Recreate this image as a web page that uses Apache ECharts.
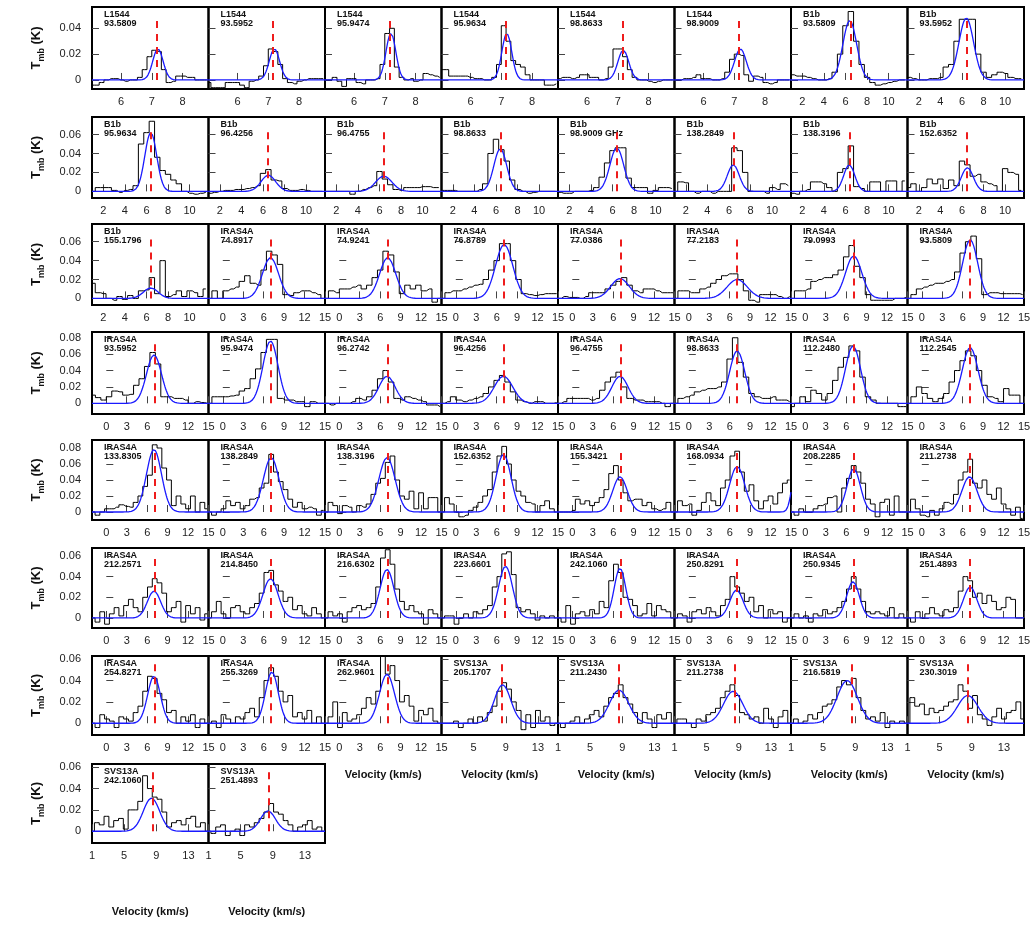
<!DOCTYPE html>
<html><head><meta charset="utf-8">
<script src="https://cdn.jsdelivr.net/npm/echarts@6/dist/echarts.min.js"></script>
<style>html,body{margin:0;padding:0;background:#fff}#c{width:1035px;height:926px}</style>
</head><body><div id="c"></div><script>
// ---------------- DATA ----------------
const sources = ["L1544","L1544","L1544","L1544","L1544","L1544","B1b","B1b",
 "B1b","B1b","B1b","B1b","B1b","B1b","B1b","B1b",
 "B1b","IRAS4A","IRAS4A","IRAS4A","IRAS4A","IRAS4A","IRAS4A","IRAS4A",
 "IRAS4A","IRAS4A","IRAS4A","IRAS4A","IRAS4A","IRAS4A","IRAS4A","IRAS4A",
 "IRAS4A","IRAS4A","IRAS4A","IRAS4A","IRAS4A","IRAS4A","IRAS4A","IRAS4A",
 "IRAS4A","IRAS4A","IRAS4A","IRAS4A","IRAS4A","IRAS4A","IRAS4A","IRAS4A",
 "IRAS4A","IRAS4A","IRAS4A","SVS13A","SVS13A","SVS13A","SVS13A","SVS13A",
 "SVS13A","SVS13A"];
const freqs = ["93.5809","93.5952","95.9474","95.9634","98.8633","98.9009","93.5809","93.5952",
 "95.9634","96.4256","96.4755","98.8633","98.9009 GHz","138.2849","138.3196","152.6352",
 "155.1796","74.8917","74.9241","76.8789","77.0386","77.2183","79.0993","93.5809",
 "93.5952","95.9474","96.2742","96.4256","96.4755","98.8633","112.2480","112.2545",
 "133.8305","138.2849","138.3196","152.6352","155.3421","168.0934","208.2285","211.2738",
 "212.2571","214.8450","216.6302","223.6601","242.1060","250.8291","250.9345","251.4893",
 "254.8271","255.3269","262.9601","205.1707","211.2430","211.2738","216.5819","230.3019",
 "242.1060","251.4893"];

// velocity axis per source: [min, max] and tick labels
const velRange = {L1544:[5.05,8.85], B1b:[0.95,11.75], IRAS4A:[-2.1,15], SVS13A:[1,15.5]};
const l1544Ticks = [6,7,8];
const b1bTicks = [2,4,6,8,10];
const iras4aTicks = [0,3,6,9,12,15];
const svs13aTicks = [1,5,9,13];

// systemic velocity (red dashed line) per panel
const vlsr = [7.15,7.15,7.15,7.15,7.15,7.15,6.45,6.4,
 6.4,6.4,6.4,6.45,6.4,6.4,6.4,6.4,
 6.4,7.1,7.1,7.1,7.1,7.1,7.1,7.1,
 7.1,7.1,7.1,7.1,7.1,7.1,7.1,7.1,
 7.1,7.1,7.1,7.1,7.1,7.1,7.1,7.1,
 7.1,7.1,7.1,7.2,7.1,7.1,7.1,7.1,
 7.1,7.1,7.1,8.5,8.5,8.5,8.5,8.5,
 8.5,8.5];

// Gaussian fit components per panel: [amplitude K, centre km/s, FWHM km/s]
const fitComps = [
 [[0.024,7.2,0.40]],[[0.024,7.2,0.40]],[[0.036,7.2,0.38]],[[0.036,7.18,0.38]],
 [[0.023,7.18,0.42]],[[0.024,7.2,0.45]],[[0.046,6.4,1.5]],[[0.048,6.4,1.6]],
 [[0.062,6.4,1.3]],[[0.017,6.5,1.6]],[[0.016,6.4,1.8]],[[0.045,6.4,1.4]],
 [[0.046,6.4,1.5]],[[0.028,6.4,1.3]],[[0.028,6.35,1.2]],[[0.025,6.5,1.3]],
 [[0.011,6.4,1.6]],[[0.043,7.0,2.8]],[[0.043,7.1,2.8]],[[0.057,7.1,3.0]],
 [[0.021,7.0,3.2]],[[0.020,7.1,3.5]],[[0.045,7.1,2.8]],[[0.062,7.1,2.6]],
 [[0.059,7.0,2.6]],[[0.076,7.0,2.6]],[[0.033,7.0,2.8]],[[0.033,7.0,3.2]],
 [[0.033,7.0,2.8]],[[0.064,7.1,2.6]],[[0.070,7.0,2.6]],[[0.068,7.1,2.7]],
 [[0.078,7.0,2.6]],[[0.068,7.1,2.7]],[[0.068,7.0,2.8]],[[0.072,7.0,2.6]],
 [[0.044,7.0,2.5]],[[0.057,7.1,2.6],[0.045,15.6,1.3]],[[0.054,7.1,2.3]],[[0.044,7.0,2.6]],
 [[0.026,7.0,2.3]],[[0.038,7.0,2.6]],[[0.047,7.0,2.4]],[[0.050,7.3,2.4]],
 [[0.048,7.0,2.0]],[[0.027,7.0,2.3]],[[0.035,7.0,2.2]],[[0.030,7.1,2.3]],
 [[0.044,7.0,2.2]],[[0.048,7.2,2.2]],[[0.046,7.0,2.6]],[[0.036,8.6,2.4]],
 [[0.031,8.6,2.8]],[[0.030,8.3,2.8]],[[0.040,8.0,3.0]],[[0.026,8.5,3.0]],
 [[0.031,8.4,2.4]],[[0.019,8.4,2.2]]];

// channel grid: first channel velocity and channel width (km/s)
const chanStart = [5.05,5.05,5.05,5.05,5.05,5.05,1,1, 1,1,1,1,1,1,1,1,
 1,-2,-2,-2,-2,-2,-2,-2, -2,-2,-2,-2,-2,-2,-2,-2,
 -2,-2,-2,-2,-2,-2,-2,-2, -2,-2,-2,-2,-2,-2,-2,-2,
 -2,-2,-2,1,1,1,1,1, 1,1];
const chanWidth = [0.156,0.156,0.156,0.156,0.156,0.156,0.5,0.5, 0.5,0.5,0.5,0.5,0.5,0.5,0.5,0.5,
 0.5,0.8,0.8,0.8,0.8,0.8,0.8,0.8, 0.8,0.8,0.8,0.8,0.8,0.8,0.8,0.8,
 0.7,0.7,0.7,0.7,0.7,0.7,0.7,0.7, 0.7,0.7,0.7,0.7,0.7,0.7,0.7,0.7,
 0.7,0.7,0.7,0.6,0.6,0.6,0.6,0.6, 0.6,0.6];

// observed spectra (Tmb, K), one value per channel
const spectra = [
 [-0.004,-0.004,-0.002,0.0,0.001,0.001,0.0,-0.001,0.0,0.0,0.002,0.008,0.018,0.023,0.022,0.008,-0.002,-0.001,0.003,0.003,0.002,0.002,0.0,0.0,0.0],
 [-0.002,-0.006,-0.006,-0.006,-0.002,-0.002,-0.002,-0.004,-0.006,-0.001,0.0,0.003,0.011,0.024,0.022,0.012,0.001,-0.002,-0.003,-0.001,0.0,0.001,0.001,0.001,0.001],
 [0.0,0.0,0.002,-0.001,-0.005,0.001,0.001,-0.002,-0.003,0.0,0.0,0.001,0.012,0.036,0.040,0.010,0.002,0.0,0.001,-0.001,0.0,0.005,0.004,0.003,0.002],
 [0.008,0.008,0.003,0.003,0.003,0.003,0.002,0.001,0.001,0.0,0.0,0.002,0.012,0.042,0.030,0.015,0.012,0.010,0.004,0.0,0.0,0.0,-0.004,-0.004,-0.003],
 [0.001,0.002,0.002,0.001,0.002,0.004,0.004,0.002,0.002,0.0,0.001,0.010,0.024,0.024,0.018,0.008,0.002,0.0,0.0,-0.001,-0.002,-0.001,0.0,0.0,0.0],
 [0.0,0.0,0.001,0.001,0.002,0.004,0.001,0.001,0.0,0.0,0.001,0.006,0.016,0.020,0.019,0.004,-0.001,0.003,0.002,-0.002,-0.003,-0.002,0.0,0.0,0.0],
 [0.004,0.003,0.003,0.002,0.001,0.0,0.0,0.001,0.006,0.020,0.042,0.053,0.030,0.012,0.002,-0.002,-0.004,-0.003,-0.002,-0.001,0.0,0.0],
 [0.002,0.001,0.0,0.0,0.001,0.001,0.002,0.010,0.012,0.030,0.047,0.047,0.047,0.020,0.006,0.002,0.004,0.006,0.005,0.002,0.001,0.001],
 [0.0,0.004,0.004,0.004,0.001,-0.001,0.001,0.002,0.006,0.050,0.062,0.074,0.036,0.022,0.018,0.012,0.008,0.0,-0.002,-0.003,-0.002,-0.001],
 [-0.002,-0.001,0.0,0.001,0.001,0.002,0.002,0.003,0.004,0.006,0.019,0.023,0.012,0.011,0.003,0.001,0.001,0.002,0.001,0.0,0.0,0.0],
 [0.0,0.0,0.0,0.0,0.0,-0.003,0.0,0.002,0.004,0.006,0.021,0.013,0.007,0.002,0.001,0.004,0.004,0.004,0.005,0.005,0.004,0.004],
 [0.001,0.001,0.001,0.0,0.0,0.0,0.0,0.002,0.008,0.040,0.055,0.044,0.032,0.012,0.002,0.0,-0.002,-0.001,0.0,0.0,0.0,0.0],
 [-0.001,-0.002,-0.002,0.0,0.0,0.0,0.001,0.004,0.015,0.030,0.043,0.046,0.046,0.014,0.004,0.004,0.004,-0.002,0.001,0.004,0.004,0.003],
 [0.0,0.010,0.009,0.0,-0.002,0.0,0.0,-0.002,0.0,0.0,0.0,0.046,0.043,0.020,0.0,0.0,0.0,-0.002,0.004,0.002,0.008,0.006],
 [-0.002,-0.003,0.0,0.002,0.010,0.010,0.008,0.004,0.0,0.020,0.024,0.048,0.005,0.003,0.0,0.010,0.010,0.0,0.011,0.011,0.0,0.011],
 [0.004,0.008,0.0,0.004,0.013,0.008,0.013,0.003,0.012,0.006,0.032,0.028,0.016,0.018,0.010,0.008,0.006,0.0,0.024,0.020,0.018,0.001],
 [0.016,0.006,0.005,0.0,-0.002,0.002,-0.001,0.003,0.0,0.008,0.009,0.022,0.005,0.040,0.002,0.004,0.008,0.002,0.008,0.006,0.002,0.010],
 [0.0,0.008,0.0,0.008,0.010,0.012,0.018,0.024,0.016,0.014,0.030,0.050,0.046,0.036,0.004,0.003,0.006,0.008,0.008,0.006,0.004,0.0],
 [0.0,0.008,0.006,0.010,0.010,0.012,0.014,0.010,0.014,0.022,0.030,0.050,0.046,0.028,0.005,0.014,0.010,0.014,0.008,0.010,-0.004,0.0],
 [0.0,0.006,0.008,0.008,0.010,0.012,0.014,0.015,0.020,0.030,0.040,0.058,0.058,0.040,0.020,0.005,0.004,0.003,0.004,0.005,0.005,0.005],
 [0.0,0.002,0.001,0.001,0.0,0.002,0.006,0.006,0.006,0.010,0.014,0.018,0.022,0.014,0.008,0.006,0.010,0.010,0.008,0.006,0.006,0.006],
 [0.0,0.008,0.008,0.006,0.006,0.010,0.012,0.016,0.020,0.024,0.026,0.026,0.020,0.008,-0.002,-0.004,0.004,0.004,0.004,0.002,0.0,0.002],
 [0.0,0.008,0.008,0.010,0.018,0.020,0.022,0.022,0.025,0.030,0.044,0.056,0.034,0.022,0.004,-0.002,-0.002,-0.002,-0.002,0.0,0.0,0.001],
 [0.0,0.004,0.010,0.012,0.014,0.016,0.016,0.018,0.020,0.028,0.048,0.060,0.066,0.042,0.004,0.006,0.006,0.005,0.005,0.005,0.005,0.004],
 [0.010,0.007,0.004,0.008,0.015,0.014,0.010,0.011,0.022,0.030,0.045,0.062,0.048,0.008,0.008,0.006,0.006,0.004,0.0,0.002,0.001,0.0],
 [0.0,0.008,0.008,0.008,0.009,0.010,0.015,0.018,0.030,0.042,0.062,0.078,0.078,0.006,0.004,0.004,0.002,0.002,-0.004,0.002,0.0,0.0],
 [0.0,-0.002,0.0,0.0,0.0,0.002,0.006,0.004,0.008,0.016,0.030,0.040,0.026,0.006,0.004,0.008,0.006,0.004,0.002,-0.002,-0.002,-0.004],
 [0.0,0.002,0.008,0.004,0.002,0.004,0.006,0.008,0.012,0.020,0.028,0.034,0.026,0.014,0.004,0.002,0.0,0.002,0.002,0.0,0.0,0.001],
 [0.0,0.002,0.006,0.006,0.006,0.006,0.004,0.006,0.016,0.026,0.032,0.038,0.020,0.006,0.004,0.004,0.002,0.002,0.002,0.0,-0.004,0.0],
 [0.0,0.006,0.008,0.010,0.014,0.016,0.018,0.018,0.020,0.026,0.054,0.080,0.050,0.032,0.012,0.008,0.006,0.006,0.008,0.004,0.004,0.002],
 [-0.004,0.0,0.008,0.002,0.016,0.012,0.004,0.012,0.028,0.044,0.056,0.070,0.064,0.032,0.008,0.004,0.0,0.0,0.0,0.0,-0.004,-0.004],
 [0.0,0.008,0.020,0.012,0.006,0.002,0.006,0.012,0.026,0.040,0.052,0.064,0.058,0.040,0.022,0.008,0.006,0.002,0.018,0.010,0.010,0.0],
 [0.0,-0.004,0.0,0.004,0.004,0.006,0.009,0.007,0.006,0.012,0.020,0.032,0.046,0.084,0.080,0.055,0.040,0.008,0.020,0.010,0.004,0.020,0.0,0.012,0.004],
 [0.0,-0.004,0.0,0.004,0.014,0.008,0.012,0.004,0.008,0.016,0.018,0.030,0.036,0.072,0.050,0.038,0.028,0.016,0.006,0.012,0.004,0.006,0.004,-0.004,0.002],
 [0.0,0.012,0.008,-0.002,0.008,0.006,0.0,0.008,0.006,0.010,0.022,0.036,0.042,0.062,0.070,0.040,0.020,0.016,0.026,0.004,0.024,0.004,0.018,0.018,0.0],
 [0.0,0.018,0.010,0.0,-0.006,-0.004,0.002,0.006,0.012,0.020,0.028,0.050,0.070,0.082,0.060,0.040,0.026,0.020,0.012,0.010,0.0,0.008,0.014,0.004,0.0],
 [0.0,0.0,0.0,0.002,0.016,0.010,0.014,0.008,0.012,0.018,0.028,0.048,0.058,0.040,0.024,0.014,0.016,0.016,0.008,0.012,0.004,0.002,0.004,0.012,0.0],
 [0.0,0.014,0.008,0.010,-0.004,0.002,0.012,0.024,0.014,0.008,0.030,0.040,0.070,0.076,0.050,0.026,0.034,0.014,0.004,0.014,0.020,0.010,0.024,0.036,0.040],
 [0.0,-0.004,0.004,0.0,0.0,0.004,0.008,0.010,0.018,0.020,0.0,0.030,0.042,0.058,0.050,0.036,0.016,0.010,-0.006,0.012,0.016,-0.004,0.020,0.0,0.0],
 [0.0,0.016,0.004,-0.004,-0.006,0.002,-0.004,0.004,0.012,0.010,0.022,0.040,0.050,0.066,0.036,0.030,0.040,0.022,0.016,0.030,0.010,0.004,-0.004,0.006,-0.008],
 [0.0,-0.004,0.006,-0.006,0.004,0.010,0.002,0.012,0.018,0.010,0.006,0.020,0.030,0.038,0.034,0.024,0.006,0.010,0.016,-0.004,0.012,0.004,0.010,-0.002,0.004],
 [0.0,0.006,0.016,0.004,0.0,0.010,0.012,0.006,0.004,0.010,0.014,0.024,0.044,0.046,0.032,0.026,0.016,0.020,0.008,0.012,0.004,0.002,0.010,0.004,0.0],
 [0.0,0.006,0.002,0.004,-0.004,0.006,0.010,0.012,0.008,0.010,0.014,0.030,0.058,0.066,0.052,0.028,0.016,0.008,0.012,0.006,0.004,-0.006,0.008,0.004,0.0],
 [0.0,0.002,0.002,-0.006,0.0,0.004,0.0,0.006,0.004,0.008,0.012,0.030,0.040,0.062,0.064,0.042,0.010,0.006,0.008,0.004,-0.002,0.002,0.0,0.002,0.0],
 [0.0,-0.004,0.012,-0.006,0.004,0.006,0.002,0.008,0.004,0.016,0.010,0.036,0.052,0.044,0.020,0.018,0.012,0.002,0.004,0.014,0.002,0.012,0.008,0.006,0.0],
 [0.0,0.004,0.002,-0.004,0.006,0.008,0.004,0.010,0.006,0.002,0.012,0.018,0.040,0.030,0.024,0.016,0.020,0.006,0.012,0.0,0.008,0.004,0.006,-0.004,0.0],
 [0.0,0.004,0.0,0.002,-0.004,0.004,0.002,0.008,0.004,0.006,0.010,0.016,0.028,0.040,0.028,0.016,0.006,0.004,0.006,0.004,0.002,0.010,0.0,0.004,0.0],
 [0.0,-0.004,0.006,0.0,0.004,0.010,0.004,0.002,0.008,0.006,0.010,0.026,0.040,0.036,0.020,0.024,0.014,0.022,0.016,0.008,0.010,0.020,0.018,0.0,0.0],
 [0.0,-0.004,0.008,0.004,0.002,-0.004,0.006,0.004,0.002,0.010,0.016,0.030,0.044,0.042,0.028,0.022,0.010,0.012,0.0,0.006,0.002,0.008,-0.004,0.004,0.0],
 [0.0,0.002,-0.004,0.008,0.004,0.0,0.006,0.004,0.010,0.014,0.006,0.024,0.040,0.052,0.044,0.030,0.020,0.026,0.006,0.010,0.004,0.012,0.0,0.006,0.0],
 [0.0,0.006,0.020,-0.004,0.010,0.002,0.004,0.008,0.014,0.024,0.018,0.030,0.064,0.046,0.054,0.040,0.020,0.026,0.016,0.002,0.012,0.008,0.014,0.002,0.0],
 [0.0,0.0,0.0,0.002,-0.004,0.0,0.004,0.0,0.006,0.002,0.010,0.016,0.030,0.038,0.032,0.020,0.012,-0.006,0.008,-0.004,0.012,0.002,0.006,-0.002,0.0],
 [0.0,-0.004,0.0,0.002,0.006,0.0,0.004,0.008,0.012,0.006,0.016,0.024,0.028,0.036,0.024,0.018,0.010,0.0,0.010,0.004,-0.004,0.008,0.004,0.010,0.0],
 [0.0,0.004,0.004,0.0,-0.004,0.004,0.002,0.008,0.010,0.014,0.024,0.030,0.036,0.026,0.010,0.008,0.004,0.006,0.0,0.014,0.004,-0.004,0.006,0.012,0.0],
 [0.0,0.004,0.0,0.002,0.008,0.004,0.010,0.016,0.018,0.022,0.034,0.040,0.036,0.042,0.024,0.012,0.004,0.006,0.002,0.010,-0.004,0.002,0.0,0.002,0.0],
 [0.0,0.024,0.016,0.018,0.008,0.014,0.010,0.012,0.016,0.020,0.022,0.036,0.030,0.014,0.026,0.008,0.004,-0.002,0.006,0.014,0.004,0.010,0.012,0.020,0.004],
 [0.0,0.008,0.006,0.014,0.004,0.010,0.012,0.002,0.020,0.020,0.028,0.052,0.040,0.032,0.030,0.018,0.004,0.008,0.010,0.006,0.012,0.014,0.004,0.008,0.0],
 [0.0,-0.002,0.004,0.006,-0.004,0.0,0.002,-0.004,0.006,0.004,0.008,0.012,0.018,0.026,0.018,0.016,0.010,0.006,0.0,0.004,0.006,0.010,0.002,0.004,0.0]
];

// Tmb axis per row: range and tick labels
const rowTmin = [-0.007,-0.007,-0.007,-0.013,-0.010,-0.0097,-0.011,-0.011];
const rowTmax = [0.0565,0.0785,0.0788,0.087,0.090,0.0677,0.063,0.063];
const rowTticks = [[0,0.02,0.04],[0,0.02,0.04,0.06],[0,0.02,0.04,0.06],[0,0.02,0.04,0.06,0.08],
 [0,0.02,0.04,0.06,0.08],[0,0.02,0.04,0.06],[0,0.02,0.04,0.06],[0,0.02,0.04,0.06]];
const rowRedTop = [0.050,0.068,0.068,0.077,0.079,0.060,0.056,0.056];

// ---------------- LAYOUT ----------------
const NCOL = 8, COLW = 116.5, LEFT0 = 92;
const rowTop = [7,117,224,332,440,548,656,764];
const rowH = [82,81,81,82,80,80,79,79];
const FONT = '"Liberation Sans Narrow","Liberation Sans",Arial,sans-serif';
const tickSets = {L1544:l1544Ticks, B1b:b1bTicks, IRAS4A:iras4aTicks, SVS13A:svs13aTicks};

const grids=[], xAxes=[], yAxes=[], series=[], graphics=[];
function gauss(comps, v){let s=0;for(const c of comps){const d=(v-c[1])/c[2];s+=c[0]*Math.exp(-4*Math.LN2*d*d);}return s;}

sources.forEach((src,i)=>{
  const r=Math.floor(i/NCOL), c=i%NCOL;
  const left=LEFT0+c*COLW, top=rowTop[r];
  grids.push({left:left, top:top, width:COLW, height:rowH[r], show:true, borderColor:'#000', borderWidth:2, backgroundColor:'transparent', containLabel:false});
  const [vmin,vmax]=velRange[src];
  let xt = tickSets[src];
  if (i===51) xt = xt.filter(v=>v!==1);
  xAxes.push({type:'value', gridIndex:i, min:vmin, max:vmax,
    axisLine:{show:false}, splitLine:{show:false},
    axisTick:{show:true, inside:true, length:7, customValues:xt, lineStyle:{color:'#444',width:1}},
    axisLabel:{show:true, customValues:xt, margin:7, fontSize:11, color:'#222', fontFamily:FONT}});
  const ya={type:'value', gridIndex:i, min:rowTmin[r], max:rowTmax[r],
    axisLine:{show:false}, splitLine:{show:false},
    axisTick:{show:true, inside:true, length:7, customValues:rowTticks[r], lineStyle:{color:'#444',width:1}},
    axisLabel:{show:c===0, customValues:rowTticks[r], margin:11, fontSize:11, color:'#222', fontFamily:FONT}};
  if (c===0){
    ya.name='{t|T}{s|mb}{t| (K)}'; ya.nameLocation='middle'; ya.nameRotate=90; ya.nameGap=46;
    ya.nameTextStyle={rich:{t:{fontSize:13,fontWeight:'bold',fontFamily:'"Liberation Sans",Arial,sans-serif',color:'#111',lineHeight:20},
      s:{fontSize:9,fontWeight:'bold',fontFamily:'"Liberation Sans",Arial,sans-serif',color:'#111',lineHeight:12,verticalAlign:'bottom'}}};
  }
  yAxes.push(ya);
  const spec = spectra[i].map((t,k)=>[chanStart[i]+k*chanWidth[i], t]);
  series.push({type:'line', xAxisIndex:i, yAxisIndex:i, data:spec, step:'middle', showSymbol:false, symbol:'none',
    lineStyle:{color:'#000',width:1}, silent:true, animation:false, z:3,
    markLine:{silent:true, symbol:'none', animation:false, label:{show:false},
      lineStyle:{color:'#ee1c1c', width:2, type:[7,6]},
      data:[[{coord:[vlsr[i],0]},{coord:[vlsr[i],rowRedTop[r]]}]]}});
  const n=160, fit=[];
  for(let k=0;k<=n;k++){const v=vmin+(vmax-vmin)*k/n; fit.push([v, gauss(fitComps[i], v)]);}
  series.push({type:'line', xAxisIndex:i, yAxisIndex:i, data:fit, showSymbol:false, symbol:'none',
    lineStyle:{color:'#1a1aff',width:1.3}, silent:true, animation:false, z:4});
  graphics.push({type:'text', left:null, x:left+12, y:top+8, silent:true,
    style:{text:src, font:'bold 9px '+FONT, fill:'#111', textAlign:'left', textVerticalAlign:'middle'}});
  graphics.push({type:'text', x:left+12, y:top+17, silent:true,
    style:{text:freqs[i], font:'bold 9px '+FONT, fill:'#111', textAlign:'left', textVerticalAlign:'middle'}});
});
// velocity axis titles
[[6,2],[6,3],[6,4],[6,5],[6,6],[6,7]].forEach(([r,c])=>{
  graphics.push({type:'text', x:LEFT0+(c+0.5)*COLW, y:775, silent:true,
    style:{text:'Velocity (km/s)', font:'bold 11px '+FONT, fill:'#111', textAlign:'center', textVerticalAlign:'middle'}});
});
[0,1].forEach(c=>{
  graphics.push({type:'text', x:LEFT0+(c+0.5)*COLW, y:912, silent:true,
    style:{text:'Velocity (km/s)', font:'bold 11px '+FONT, fill:'#111', textAlign:'center', textVerticalAlign:'middle'}});
});

const chart = echarts.init(document.getElementById('c'), null, {renderer:'canvas'});
chart.setOption({animation:false, backgroundColor:'#fff', grid:grids, xAxis:xAxes, yAxis:yAxes, series:series, graphic:graphics});
</script></body></html>
